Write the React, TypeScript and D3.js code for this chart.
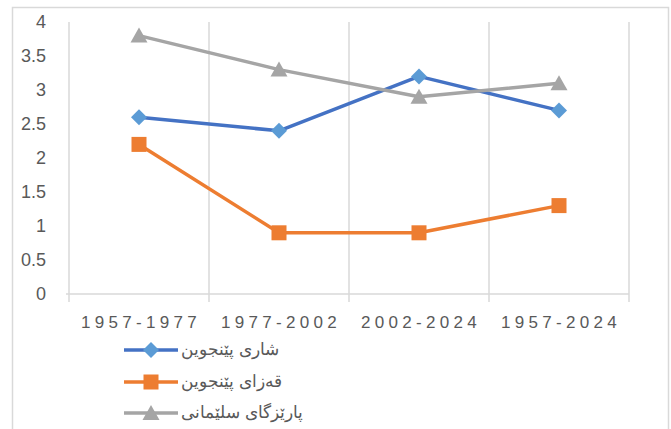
import React from "react";
import * as d3 from "d3";

const categories = ["1957-1977", "1977-2002", "2002-2024", "1957-2024"];
const cityValues = [2.6, 2.4, 3.2, 2.7];
const districtValues = [2.2, 0.9, 0.9, 1.3];
const provinceValues = [3.8, 3.3, 2.9, 3.1];
const yTicks = [0, 0.5, 1, 1.5, 2, 2.5, 3, 3.5, 4];
const seriesNames = ["شاری پێنجوین", "قەزای پێنجوین", "پارێزگای سلێمانی"];

const W = 671;
const H = 429;

export default function App() {
  const x = d3.scaleBand<string>().domain(categories).range([69, 629]).padding(0);
  const y = d3.scaleLinear().domain([0, 4]).range([294, 22]);
  const cx = (c: string) => (x(c) as number) + x.bandwidth() / 2;

  const series = [
    { name: seriesNames[0], values: cityValues, line: "#4472C4", fill: "#5B9BD5", shape: "diamond" },
    { name: seriesNames[1], values: districtValues, line: "#ED7D31", fill: "#ED7D31", shape: "square" },
    { name: seriesNames[2], values: provinceValues, line: "#A5A5A5", fill: "#A5A5A5", shape: "triangle" },
  ];

  const lineGen = d3
    .line<number>()
    .x((_, i) => cx(categories[i]))
    .y((d) => y(d));

  const marker = (shape: string, px: number, py: number, color: string, key: string) => {
    if (shape === "diamond") {
      const s = 8;
      return (
        <path key={key} d={`M${px},${py - s}L${px + s},${py}L${px},${py + s}L${px - s},${py}Z`} fill={color} />
      );
    }
    if (shape === "square") {
      const s = 7.5;
      return <rect key={key} x={px - s} y={py - s} width={2 * s} height={2 * s} fill={color} />;
    }
    const s = 8;
    return (
      <path key={key} d={`M${px},${py - s}L${px + s + 0.5},${py + s - 1}L${px - s - 0.5},${py + s - 1}Z`} fill={color} />
    );
  };

  const gridXs = [...categories.map((c) => x(c) as number), 629];
  const legendYs = [350, 382, 413];

  return (
    <svg
      width={W}
      height={H}
      style={{ position: "absolute", left: 0, top: 0, background: "#fff" }}
      fontFamily="'Liberation Sans', Arial, sans-serif"
    >
      <rect x={0} y={0} width={W} height={H} fill="#fff" />
      {/* outer frame */}
      <path d={`M12.5,${H}V7.5H668.5V${H}`} fill="none" stroke="#d9d9d9" strokeWidth={1.5} />

      {/* vertical grid lines */}
      {gridXs.map((gx, i) => (
        <line key={"g" + i} x1={gx} x2={gx} y1={22} y2={302} stroke="#d9d9d9" strokeWidth={1.5} />
      ))}
      {/* x axis line */}
      <line x1={66} x2={629} y1={294} y2={294} stroke="#d9d9d9" strokeWidth={1.5} />

      {/* y tick labels */}
      {yTicks.map((t) => (
        <text key={"y" + t} x={46} y={y(t)} dy="0.36em" textAnchor="end" fontSize={18} fill="#595959">
          {String(t)}
        </text>
      ))}

      {/* x tick labels */}
      {categories.map((c) => (
        <text
          key={"x" + c}
          x={cx(c) + 2}
          y={328}
          textAnchor="middle"
          fontSize={17}
          letterSpacing={4.3}
          fill="#595959"
        >
          {c}
        </text>
      ))}

      {/* series */}
      {series.map((s, si) => (
        <g key={"s" + si}>
          <path d={lineGen(s.values) || ""} fill="none" stroke={s.line} strokeWidth={3.5} strokeLinejoin="round" />
          {s.values.map((v, i) => marker(s.shape, cx(categories[i]), y(v), s.fill, `m${si}-${i}`))}
        </g>
      ))}

      {/* legend */}
      {series.map((s, si) => (
        <g key={"l" + si}>
          <line x1={124} x2={178} y1={legendYs[si]} y2={legendYs[si]} stroke={s.line} strokeWidth={3.5} />
          {marker(s.shape, 151, legendYs[si], s.fill, "lm" + si)}
          <text x={181} y={legendYs[si]} dy="0.3em" textAnchor="start" fontSize={17} fill="#595959">
            {s.name}
          </text>
        </g>
      ))}
    </svg>
  );
}
